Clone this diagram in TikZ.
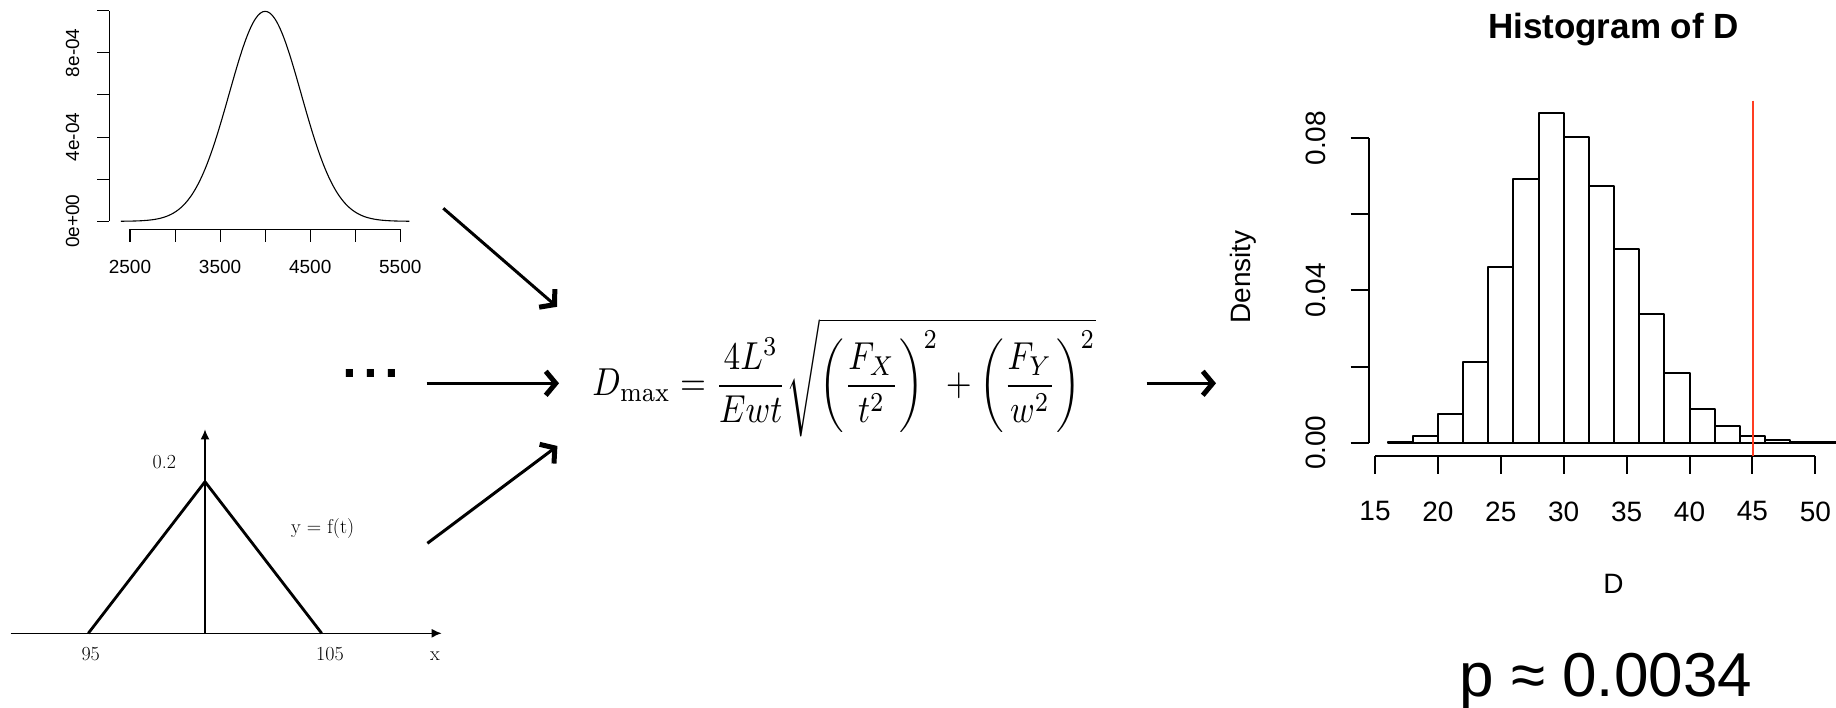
\documentclass[tikz,border=0pt]{standalone}
\usepackage{fontspec}
\newfontfamily\helv{Liberation Sans}
\usetikzlibrary{arrows.meta}
\definecolor{histRed}{HTML}{FF3D22}

\begin{document}
\begin{tikzpicture}[x=1pt,y=-1pt,>=Latex,line join=round]
\path[fill=white] (0,0) rectangle (1836,708);
\useasboundingbox (0,0) rectangle (1836,708);
\tikzset{rline/.style={draw=black,line width=1.1pt},hline/.style={draw=black,line width=2pt},
  flow/.style={draw=black,line width=3pt,-{Straight Barb[length=10pt,width=24pt,line width=5pt]}},
  pdfaxis/.style={draw=black,line width=1.6pt,-{Latex[length=10pt,width=9pt]}},
  smallnum/.style={font=\helv\fontsize{19}{22}\selectfont},bignum/.style={font=\helv\fontsize{28}{32}\selectfont},
  serifnum/.style={font=\fontsize{20}{24}\selectfont}}
% normal input
\draw[rline] (109.3,10.7) -- (109.3,221.3);
\foreach \k in {0,...,5} \draw[rline] (97.3,{221.3-42.12*\k}) -- (109.3,{221.3-42.12*\k});
\draw[rline] (130,229.3) -- (400.3,229.3);
\foreach \k in {0,...,6} \draw[rline] ({130+45.05*\k},229.3) -- ({130+45.05*\k},241.7);
\foreach \v/\k in {2500/0,3500/2,4500/4,5500/6} \node[smallnum] (nx\v) at ({130+45.05*\k},266.7) {\v};
\node[smallnum,rotate=90] (nyA) at (72.7,221.3) {0e+00};
\node[smallnum,rotate=90] (nyB) at (72.7,137) {4e-04};
\node[smallnum,rotate=90] (nyC) at (72.7,52.8) {8e-04};
\draw[rline] plot[domain=-4:4,samples=121,smooth] ({265.15+36.04*\x},{221.3-209.95*exp(-0.5*\x*\x)});
% triangular input
\draw[pdfaxis] (10.7,633.3) -- (441.7,633.3);
\draw[pdfaxis] (205,633.3) -- (205,429.3);
\draw[line width=2.8pt] (88.3,633.3) -- (205,481.7) -- (321.7,633.3);
\node[serifnum,anchor=base] (tpeak) at (164.3,468.4) {0.2};
\node[serifnum,anchor=base] (tlow) at (90.7,660) {95};
\node[serifnum,anchor=base] (thigh) at (330,660) {105};
\node[serifnum,anchor=base] (tx) at (435,660) {x};
\node[serifnum] (tfun) at (322.7,528.3) {y = f(t)};
\node[font=\helv\fontsize{75}{80}\selectfont,anchor=base] (dots) at (370.8,377.5) {...};
% model
\node[inner sep=0pt,xscale=3.33,yscale=3.9] (eq) at (844,377.5) {$\displaystyle D_{\max}=\frac{4L^3}{Ewt}\sqrt{\left(\frac{F_X}{t^2}\right)^2+\left(\frac{F_Y}{w^2}\right)^2}$};
\coordinate (inA) at (443.3,208.3); \coordinate (inB) at (426.7,383.3); \coordinate (inC) at (427.4,543.3);
\coordinate (eqA) at (557,306.8); \coordinate (eqB) at (559,383.3); \coordinate (eqC) at (557.4,446);
\coordinate (outA) at (1146.7,383.3); \coordinate (histIn) at (1216,383.3);
\draw[flow] (inA) -- (eqA); \draw[flow] (inB) -- (eqB); \draw[flow] (inC) -- (eqC);
\draw[flow] (outA) -- (histIn);
% histogram of D
\node[font=\helv\bfseries\fontsize{35}{40}\selectfont,anchor=base] (htitle) at (1613.5,38.3) {Histogram of D};
\draw[hline] (1369.3,138.3) -- (1369.3,442.7);
\foreach \k in {0,...,4} \draw[hline] (1350.7,{442.7-76.1*\k}) -- (1369.3,{442.7-76.1*\k});
\draw[hline] (1375,456) -- (1815.3,456);
\foreach \v [count=\k from 0] in {15,20,...,50} {
  \draw[hline] ({1375+62.9*\k},456) -- ({1375+62.9*\k},474.3);
  \node[bignum] (hx\v) at ({1375+62.9*\k},511.5) {\v};}
\node[bignum,rotate=90] (hyA) at (1316,442.7) {0.00};
\node[bignum,rotate=90] (hyB) at (1316,290.5) {0.04};
\node[bignum,rotate=90] (hyC) at (1316,138.3) {0.08};
\node[bignum,rotate=90] (hylab) at (1243,277) {Density};
\node[bignum] (hxlab) at (1613.5,584) {D};
\foreach \a/\d in {16/0.0003,18/0.00175,20/0.0076,22/0.0213,24/0.0462,26/0.0694,28/0.0867,30/0.0804,32/0.0676,
  34/0.0509,36/0.0338,38/0.0183,40/0.0089,42/0.0044,44/0.0017,46/0.0007,48/0.0003,50/0.0001}
  \draw[hline] ({1375+12.58*(\a-15)},442.7) rectangle ({1375+12.58*(\a-13)},{442.7-3800*\d});
\draw[draw=histRed,line width=2pt] (1752.7,100.7) -- (1752.7,456);
\node[font=\helv\fontsize{62}{70}\selectfont,anchor=base] (pval) at (1605.8,696.7) {p ≈ 0.0034};
\end{tikzpicture}
\end{document}
